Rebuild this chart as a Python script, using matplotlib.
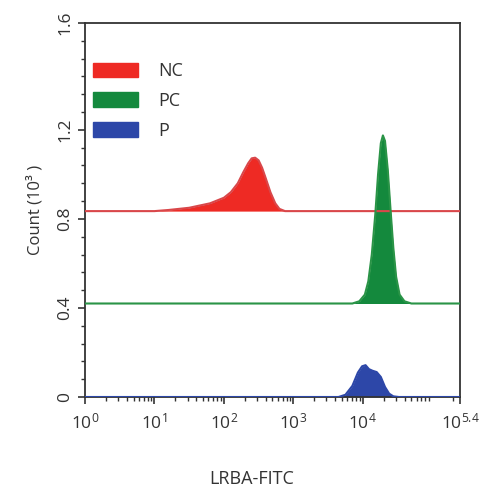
import numpy as np
import matplotlib
matplotlib.use("Agg")
import matplotlib.pyplot as plt
from matplotlib.patches import Patch
from matplotlib.ticker import FixedLocator, FixedFormatter, MultipleLocator, LogLocator, NullFormatter

plt.rcParams['font.family'] = ['Open Sans', 'DejaVu Sans']
plt.rcParams['mathtext.fontset'] = 'custom'
plt.rcParams['mathtext.rm'] = 'Open Sans'
plt.rcParams['mathtext.it'] = 'Open Sans'

# ---- data (x in log10 decades, heights in 10^3 counts above each trace baseline) ----
series_names = ["NC", "PC", "P"]
baselines = [0.835, 0.42, 0.0]

nc_logx = [0.0, 1.0, 1.2, 1.5, 1.8, 2.0, 2.1, 2.2, 2.28, 2.35, 2.4, 2.45, 2.5, 2.55, 2.6, 2.67, 2.74, 2.8, 2.88, 5.4]
nc_h    = [0.0, 0.0, 0.005, 0.015, 0.035, 0.06, 0.085, 0.125, 0.175, 0.215, 0.237, 0.24, 0.228, 0.195, 0.15, 0.085, 0.035, 0.01, 0.0, 0.0]

pc_logx = [0.0, 3.85, 3.95, 4.03, 4.08, 4.13, 4.18, 4.22, 4.26, 4.29, 4.32, 4.36, 4.4, 4.44, 4.48, 4.53, 4.6, 4.7, 5.4]
pc_h    = [0.0, 0.0, 0.01, 0.04, 0.1, 0.22, 0.4, 0.58, 0.72, 0.755, 0.73, 0.6, 0.42, 0.25, 0.12, 0.04, 0.01, 0.0, 0.0]

p_logx = [0.0, 3.65, 3.75, 3.85, 3.93, 3.99, 4.04, 4.09, 4.14, 4.2, 4.26, 4.32, 4.38, 4.44, 4.52, 5.4]
p_h    = [0.0, 0.0, 0.01, 0.05, 0.11, 0.138, 0.143, 0.125, 0.118, 0.112, 0.09, 0.045, 0.015, 0.003, 0.0, 0.0]

fill_colors = ["#ee2a24", "#14893d", "#2d47a8"]
line_colors = ["#d9474a", "#2a9447", "#2d47a8"]

xtick_exps = [0, 1, 2, 3, 4, 5.4]
xtick_labels = [r"$10^{0}$", r"$10^{1}$", r"$10^{2}$", r"$10^{3}$", r"$10^{4}$", r"$10^{5.4}$"]
ytick_vals = [0, 0.4, 0.8, 1.2, 1.68]
ytick_labels = ["0", "0.4", "0.8", "1.2", "1.6"]

fig = plt.figure(figsize=(4.85, 4.95), dpi=100)
ax = fig.add_axes([85/485, 1-397/495, 375/485, 374/495])

data = [(nc_logx, nc_h), (pc_logx, pc_h), (p_logx, p_h)]
for (lx, h), base, fc, lc, name in zip(data, baselines, fill_colors, line_colors, series_names):
    x = 10 ** np.array(lx)
    y = base + np.array(h)
    ax.fill_between(x, base, y, color=fc, lw=0, zorder=2)
    ax.plot(x, y, color=lc, lw=1.5, zorder=3)

ax.set_xscale('log')
ax.set_xlim(1, 10 ** 5.4)
ax.set_ylim(0, 1.68)

ax.xaxis.set_major_locator(FixedLocator([10 ** e for e in xtick_exps]))
ax.xaxis.set_major_formatter(FixedFormatter(xtick_labels))
ax.xaxis.set_minor_locator(LogLocator(base=10, subs=np.arange(2, 10)))
ax.xaxis.set_minor_formatter(NullFormatter())

ax.yaxis.set_major_locator(FixedLocator(ytick_vals))
ax.yaxis.set_major_formatter(FixedFormatter(ytick_labels))
ax.yaxis.set_minor_locator(MultipleLocator(0.08))

ax.tick_params(axis='both', which='major', direction='out', length=5, width=1.2, colors='#333333', labelsize=12.5)
ax.tick_params(axis='both', which='minor', direction='out', length=3, width=1, colors='#333333')
ax.tick_params(axis='x', pad=6)
for lab in ax.get_yticklabels():
    lab.set_rotation(90)
    lab.set_va('center')
for s in ax.spines.values():
    s.set_color('#333333')
    s.set_linewidth(1.3)

ax.set_ylabel("Count (10³ )", fontsize=12, color='#333333', labelpad=10)

fig.text(252/485, 1-479/495, "LRBA-FITC", ha='center', va='center', fontsize=13, color='#333333')

handles = [Patch(facecolor=c, edgecolor=c) for c in fill_colors]
leg = ax.legend(handles, series_names, loc='upper left', bbox_to_anchor=(0.0, 0.917),
                frameon=False, fontsize=13, handlelength=2.5, handleheight=0.85,
                handletextpad=1.1, labelspacing=0.65, borderaxespad=0.05)
for t in leg.get_texts():
    t.set_color('#333333')

fig.savefig("out.png", dpi=100)
